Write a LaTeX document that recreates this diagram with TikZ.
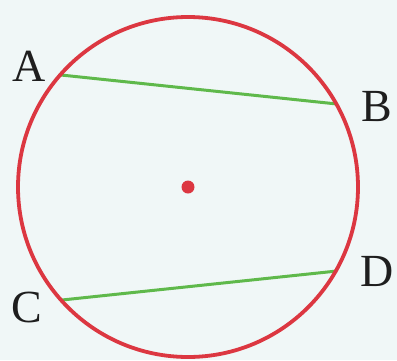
\documentclass[tikz,border=0pt]{standalone}
\usepackage{fontspec}
\setmainfont{Liberation Serif}
\definecolor{bg}{RGB}{240,247,247}
\definecolor{circred}{RGB}{220,55,65}
\definecolor{chordgreen}{RGB}{95,185,75}
\definecolor{lbl}{RGB}{30,30,30}
\tikzset{
  lab/.style={font=\fontsize{46}{46}\selectfont, text=lbl, inner sep=0pt, anchor=center},
  chord/.style={chordgreen, line width=3pt},
  rim/.style={circred, line width=3.8pt},
}
\begin{document}
\begin{tikzpicture}[x=1pt,y=-1pt]
\fill[bg] (0,0) rectangle (397,360);
\useasboundingbox (0,0) rectangle (397,360);
\coordinate (O) at (188,187);
\coordinate (A) at (61,75);
\coordinate (B) at (337,104);
\coordinate (C) at (62,300);
\coordinate (D) at (337,271);
\draw[chord] (A) -- (B);
\draw[chord] (C) -- (D);
\draw[rim] (O) circle[radius=170];
\fill[circred] (O) circle[radius=6.5];
\node[lab] (lA) at (29,66) {A};
\node[lab] (lB) at (377,107) {B};
\node[lab] (lC) at (27,307) {C};
\node[lab] (lD) at (377,271) {D};
\end{tikzpicture}
\end{document}
